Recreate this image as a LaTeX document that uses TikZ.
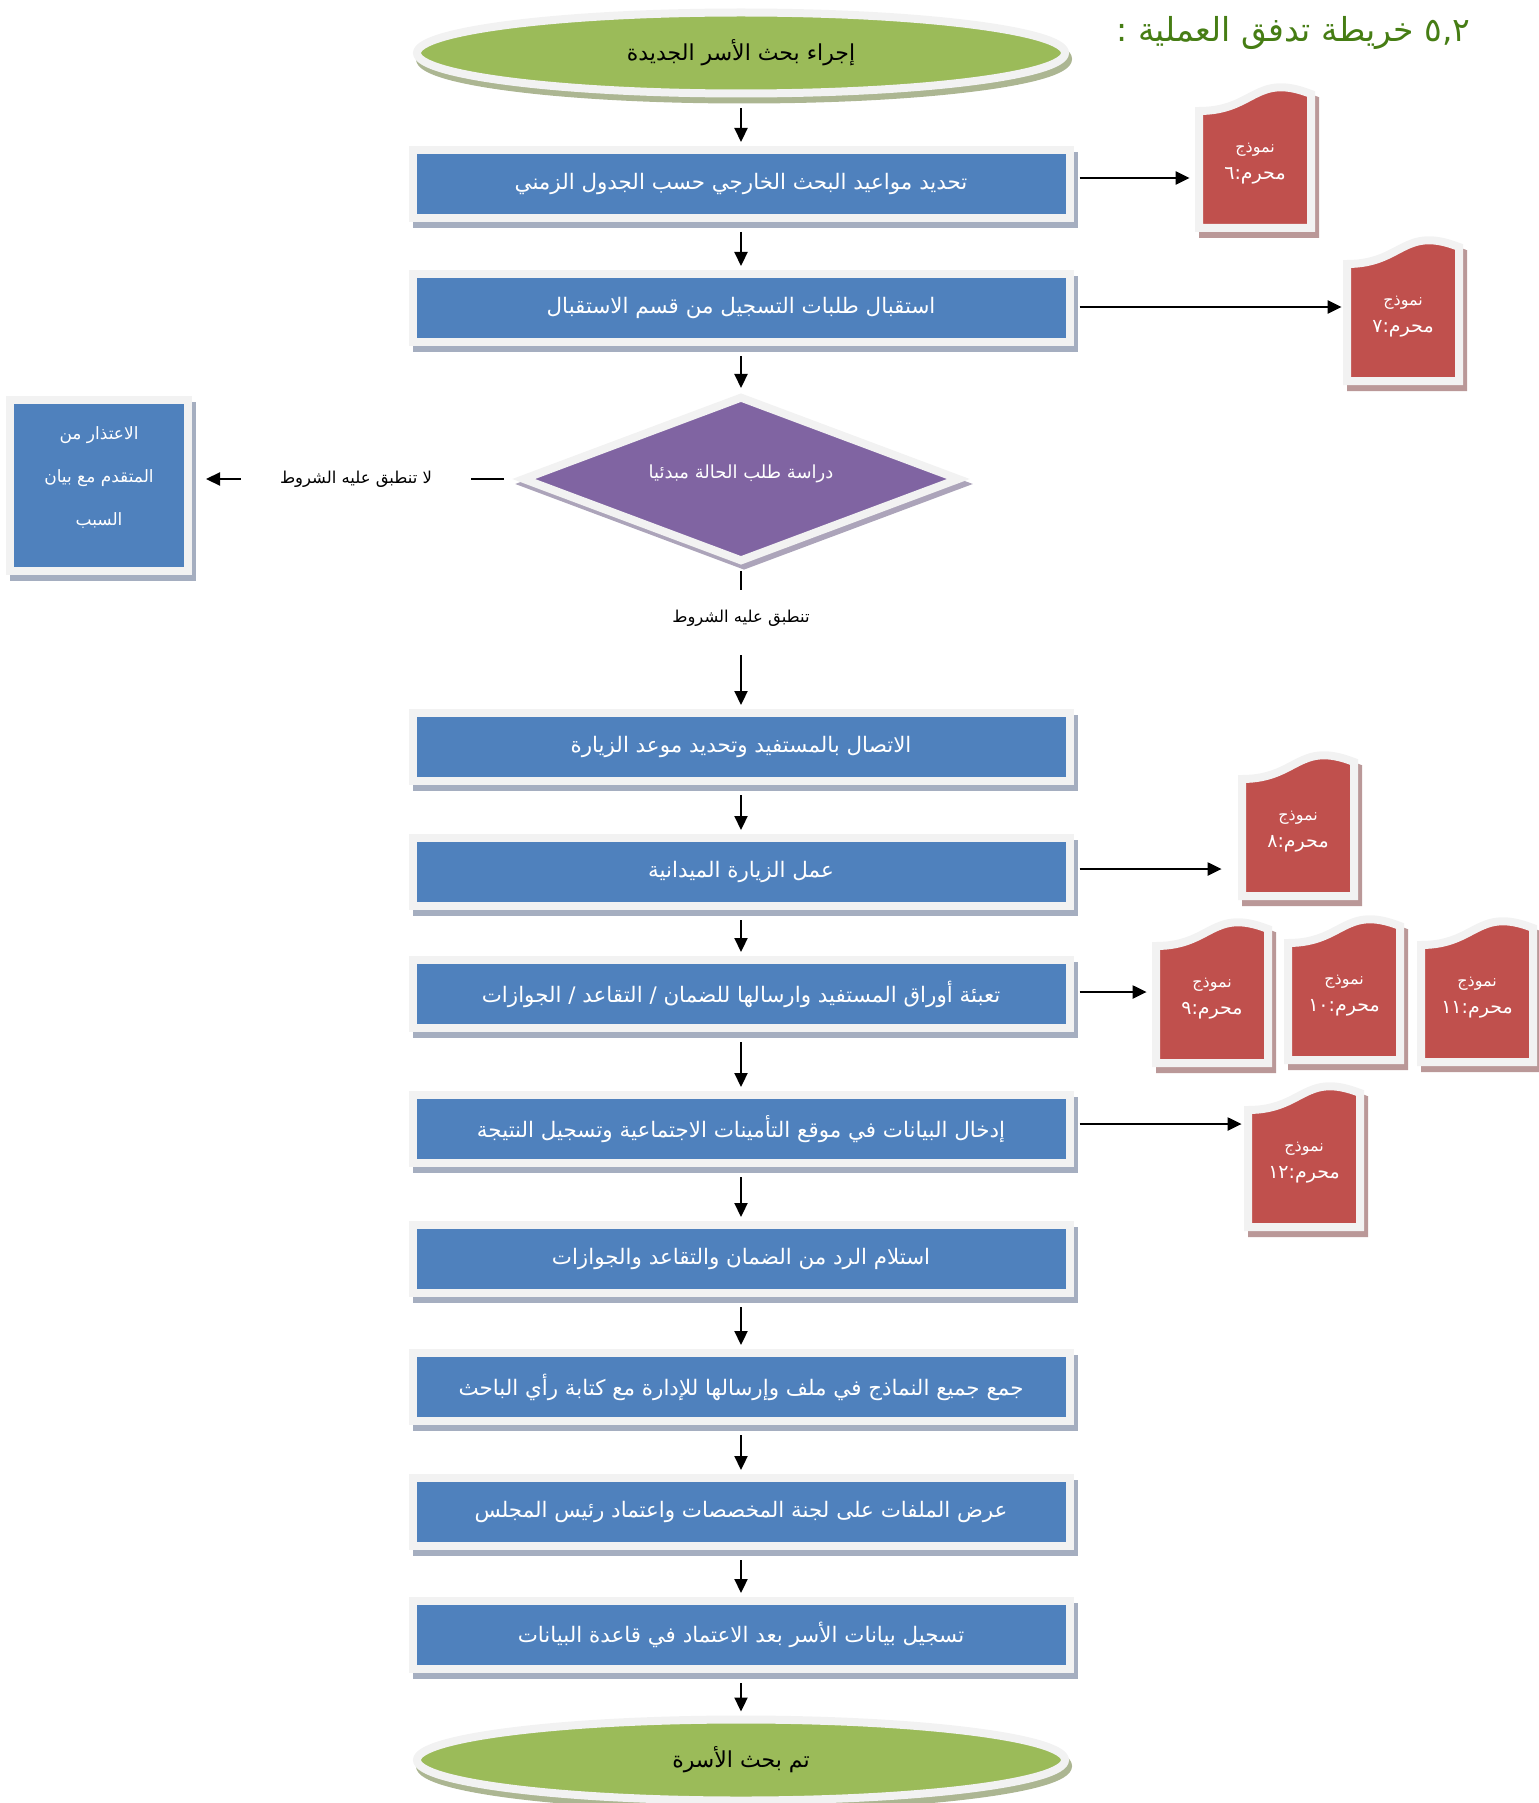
\documentclass[tikz,border=0pt]{standalone}
\usepackage{fontspec}
\usetikzlibrary{shapes.geometric,arrows.meta,shadows,calc}
\TeXXeTstate=1
\newfontfamily\arfont[Script=Arabic]{DejaVu Sans}

\definecolor{boxblue}{RGB}{79,129,189}
\definecolor{boxshade}{RGB}{165,174,192}
\definecolor{rim}{RGB}{242,242,242}
\definecolor{docred}{RGB}{192,80,77}
\definecolor{docshade}{RGB}{186,152,152}
\definecolor{decpurple}{RGB}{128,100,162}
\definecolor{decshade}{RGB}{172,164,186}
\definecolor{termgreen}{RGB}{155,187,89}
\definecolor{termshade}{RGB}{172,182,146}
\definecolor{titlegreen}{RGB}{70,125,20}

% right-to-left run of Arabic text
\newcommand\rtl[1]{\beginR #1\endR}
% two-line caption of a form sheet
\newcommand\formlabel[1]{{\fontsize{8}{9}\selectfont\rtl{نموذج}}\\[1.5pt]{\fontsize{9.5}{11}\selectfont\rtl{محرم:#1}}}

% framed "document" sheet with a wavy top edge; #1,#2 = left and top of the path
\newcommand\docshape[2]{%
  \path[docshadow] ({#1+4},{#2+6+25}) .. controls ({#1+4+56},{#2+6+25}) and ({#1+4+56},{#2+6-14}) .. ({#1+4+112},{#2+6+8}) -- ({#1+4+112},{#2+6+142}) -- ({#1+4},{#2+6+142}) -- cycle;
  \path[docbody] ({#1},{#2+25}) .. controls ({#1+56},{#2+25}) and ({#1+56},{#2-14}) .. ({#1+112},{#2+8}) -- ({#1+112},{#2+142}) -- ({#1},{#2+142}) -- cycle;
}

\tikzset{
  procbox/.style={rectangle, draw=rim, line width=4pt, fill=boxblue,
    minimum width=328.5pt, minimum height=34pt, inner sep=0pt, text=white,
    font=\arfont\fontsize{10.7}{12}\selectfont,
    drop shadow={shadow xshift=2pt, shadow yshift=-3pt, opacity=1,
      fill=boxshade, draw=boxshade, line width=4pt}},
  sidebox/.style={procbox, minimum width=89pt, minimum height=85.5pt, align=center,
    font=\arfont\fontsize{8.5}{21.5}\selectfont},
  terminal/.style={ellipse, draw=rim, line width=4pt, fill=termgreen,
    minimum width=324pt, minimum height=40.5pt, inner sep=0pt, text=black,
    font=\arfont\fontsize{11}{13}\selectfont,
    drop shadow={shadow xshift=1.5pt, shadow yshift=-3pt, opacity=1,
      fill=termshade, draw=termshade, line width=4pt}},
  decision/.style={diamond, aspect=2.6, draw=rim, line width=4pt, fill=decpurple,
    minimum width=219pt, minimum height=83pt, inner sep=0pt, text=white,
    font=\arfont\fontsize{9}{11}\selectfont,
    drop shadow={shadow xshift=1.5pt, shadow yshift=-2.5pt, opacity=1,
      fill=decshade, draw=decshade, line width=4pt}},
  docshadow/.style={draw=docshade, fill=docshade, line width=4pt},
  docbody/.style={draw=rim, fill=docred, line width=4pt},
  doctext/.style={minimum width=60pt, inner sep=0pt, text=white, align=center, font=\arfont},
  branch/.style={inner sep=0pt, text=black, font=\arfont\fontsize{8.2}{10}\selectfont},
  conn/.style={line width=1.1pt},
  flow/.style={conn, -{Triangle[length=7pt,width=6.5pt]}, shorten <=5pt, shorten >=2pt},
  sideflow/.style={conn, -{Triangle[length=7pt,width=6.5pt]}, shorten <=3pt},
}

\begin{document}
\begin{tikzpicture}[x=0.5pt,y=-0.5pt]
\useasboundingbox (0,0) rectangle (1538,1803);

% heading
\node[anchor=east, inner sep=0pt, text=titlegreen, font=\arfont\fontsize{16.5}{20}\selectfont]
  (ttl) at (1471,33) {\rtl{\beginL ٥,٢\endL{} خريطة تدفق العملية :}};

% main column
\node[terminal] (start) at (741,53) {\rtl{إجراء بحث الأسر الجديدة}};
\node[procbox] (b1) at (741,184) {\rtl{تحديد مواعيد البحث الخارجي حسب الجدول الزمني}};
\node[procbox] (b2) at (741,308) {\rtl{استقبال طلبات التسجيل من قسم الاستقبال}};
\node[decision] (dia) at (741,479) {\raisebox{7pt}{\rtl{دراسة طلب الحالة مبدئيا}}};
\node[branch, minimum height=28pt] (yes) at (741,618) {\rtl{تنطبق عليه الشروط}};
\node[procbox] (b3) at (741,747) {\rtl{الاتصال بالمستفيد وتحديد موعد الزيارة}};
\node[procbox] (b4) at (741,872) {\rtl{عمل الزيارة الميدانية}};
\node[procbox] (b5) at (741,994) {\rtl{تعبئة أوراق المستفيد وارسالها للضمان / التقاعد / الجوازات}};
\node[procbox] (b6) at (741,1129) {\rtl{إدخال البيانات في موقع التأمينات الاجتماعية وتسجيل النتيجة}};
\node[procbox] (b7) at (741,1259) {\rtl{استلام الرد من الضمان والتقاعد والجوازات}};
\node[procbox] (b8) at (741,1387) {\rtl{جمع جميع النماذج في ملف وإرسالها للإدارة مع كتابة رأي الباحث}};
\node[procbox] (b9) at (741,1512) {\rtl{عرض الملفات على لجنة المخصصات واعتماد رئيس المجلس}};
\node[procbox] (b10) at (741,1635) {\rtl{تسجيل بيانات الأسر بعد الاعتماد في قاعدة البيانات}};
\node[terminal] (stop) at (741,1760) {\rtl{تم بحث الأسرة}};

% rejected branch
\node[branch, minimum width=115pt] (no) at (356,479) {\rtl{لا تنطبق عليه الشروط}};
\node[sidebox] (lb) at (99,485) {\rtl{الاعتذار من}\\\rtl{المتقدم مع بيان}\\\rtl{السبب}\rule[-9pt]{0pt}{9pt}};

% form sheets
\docshape{1199}{86}
\docshape{1347}{239}
\docshape{1242}{754}
\docshape{1156}{921}
\docshape{1288}{918}
\docshape{1421}{920}
\docshape{1248}{1085}
\node[doctext] (d6) at (1255,164) {\formlabel{٦}};
\node[doctext] (d7) at (1403,317) {\formlabel{٧}};
\node[doctext] (d8) at (1298,832) {\formlabel{٨}};
\node[doctext] (d9) at (1212,999) {\formlabel{٩}};
\node[doctext] (d10) at (1344,996) {\formlabel{\beginL١٠\endL}};
\node[doctext] (d11) at (1477,998) {\formlabel{\beginL١١\endL}};
\node[doctext] (d12) at (1304,1163) {\formlabel{\beginL١٢\endL}};

% main flow
\draw[flow, shorten <=5.5pt] (start) -- (b1);
\draw[flow] (b1) -- (b2);
\draw[flow] (b2) -- (dia);
\draw[conn, shorten <=2.5pt] (dia.south) -- (yes.north);
\draw[flow, shorten <=4.5pt] (yes.south) -- (b3.north);
\draw[flow] (b3) -- (b4);
\draw[flow] (b4) -- (b5);
\draw[flow] (b5) -- (b6);
\draw[flow] (b6) -- (b7);
\draw[flow] (b7) -- (b8);
\draw[flow] (b8) -- (b9);
\draw[flow] (b9) -- (b10);
\draw[flow] (b10) -- (stop);

% rejected branch
\draw[conn, shorten <=7pt] (dia.west) -- (dia.west -| no.east);
\draw[flow, shorten <=0pt, shorten >=7pt] (no.west) -- (no.west -| lb.east);

% links to the forms
\draw[sideflow, shorten >=2.5pt] ($(b1.east)+(0,-6)$) -- ($(b1.east -| d6.west)+(0,-6)$);
\draw[sideflow, shorten >=0.5pt] ($(b2.east)+(0,-1)$) -- ($(b2.east -| d7.west)+(0,-1)$);
\draw[sideflow, shorten >=8pt] ($(b4.east)+(0,-3)$) -- ($(b4.east -| d8.west)+(0,-3)$);
\draw[sideflow, shorten >=2.5pt] ($(b5.east)+(0,-2)$) -- ($(b5.east -| d9.west)+(0,-2)$);
\draw[sideflow, shorten >=1pt] ($(b6.east)+(0,-5)$) -- ($(b6.east -| d12.west)+(0,-5)$);
\end{tikzpicture}
\end{document}
